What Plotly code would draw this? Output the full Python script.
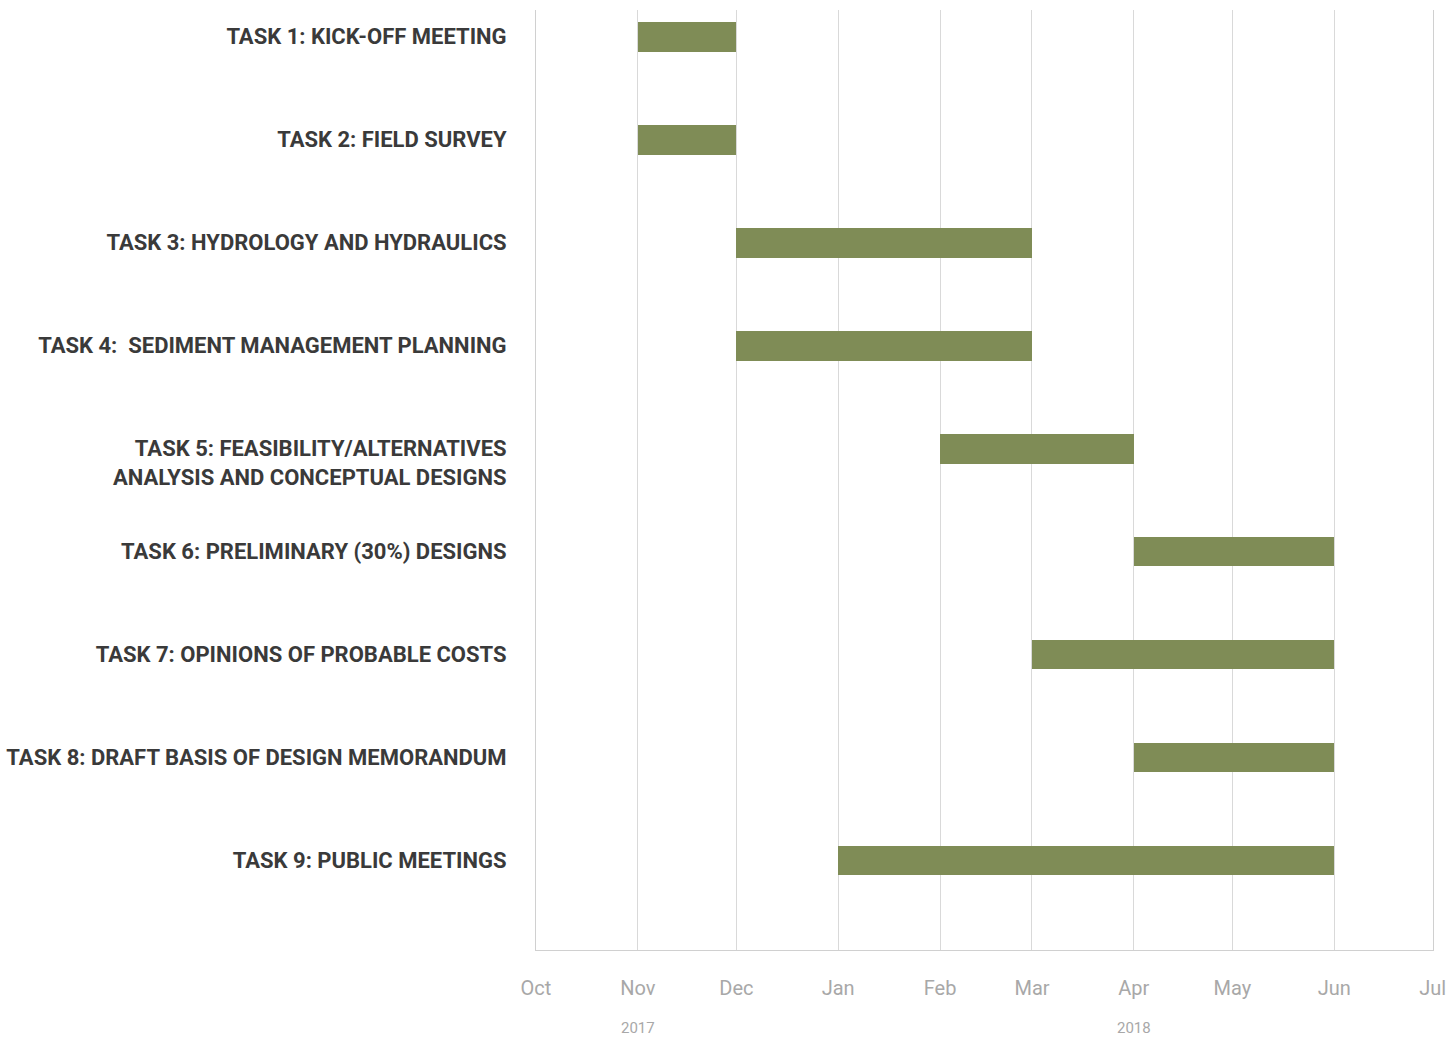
import plotly.graph_objects as go
import pandas as pd

tasks = [
    "TASK 1: KICK-OFF MEETING",
    "TASK 2: FIELD SURVEY",
    "TASK 3: HYDROLOGY AND HYDRAULICS",
    "TASK 4:  SEDIMENT MANAGEMENT PLANNING",
    "&nbsp;<br>TASK 5: FEASIBILITY/ALTERNATIVES<br>ANALYSIS AND CONCEPTUAL DESIGNS",
    "TASK 6: PRELIMINARY (30%) DESIGNS",
    "TASK 7: OPINIONS OF PROBABLE COSTS",
    "TASK 8: DRAFT BASIS OF DESIGN MEMORANDUM",
    "TASK 9: PUBLIC MEETINGS",
]
starts = ["2017-11-01", "2017-11-01", "2017-12-01", "2017-12-01", "2018-02-01",
          "2018-04-01", "2018-03-01", "2018-04-01", "2018-01-01"]
ends = ["2017-12-01", "2017-12-01", "2018-03-01", "2018-03-01", "2018-04-01",
        "2018-06-01", "2018-06-01", "2018-06-01", "2018-06-01"]
month_ticks = ["2017-10-01", "2017-11-01", "2017-12-01", "2018-01-01", "2018-02-01",
               "2018-03-01", "2018-04-01", "2018-05-01", "2018-06-01", "2018-07-01"]
month_labels = ["Oct", "Nov", "Dec", "Jan", "Feb", "Mar", "Apr", "May", "Jun", "Jul"]
year_labels = [("2017-11-01", "2017"), ("2018-04-01", "2018")]

rows = list(range(len(tasks)))
durations = [(pd.Timestamp(e) - pd.Timestamp(s)).total_seconds() * 1000 for s, e in zip(starts, ends)]

FONT = "Roboto, Liberation Sans, sans-serif"

fig = go.Figure()
fig.add_trace(go.Bar(
    y=rows, x=durations, base=starts, orientation="h",
    marker=dict(color="#7f8c56", line=dict(width=0)),
    width=0.29, showlegend=False,
))

fig.update_layout(
    width=1450, height=1040,
    margin=dict(l=536, r=17, t=10, b=90),
    paper_bgcolor="white", plot_bgcolor="white",
    bargap=0,
)
fig.update_xaxes(
    type="date", range=["2017-10-01", "2018-07-01 02:00"],
    tickvals=month_ticks, ticktext=month_labels,
    showgrid=True, gridcolor="#d9d9d9", gridwidth=1,
    showline=True, linecolor="#d0d0d0", linewidth=1,
    ticks="", ticklabelstandoff=20, automargin=False,
    ticklabeloverflow="allow",
    tickfont=dict(family=FONT, size=20, color="#a8a8a8"),
    zeroline=False,
)
fig.update_yaxes(
    range=[8.87, -0.26], tickvals=rows, ticktext=tasks,
    showgrid=False, zeroline=False, automargin=False,
    showline=True, mirror=True, linecolor="#d0d0d0", linewidth=1,
    ticks="", ticklabelstandoff=24,
    tickfont=dict(family=FONT, size=22, color="#3a3a3a", weight="bold"),
)
for d, t in year_labels:
    fig.add_annotation(x=d, y=0, xref="x", yref="paper", yshift=-89,
                       text=t, showarrow=False,
                       font=dict(family=FONT, size=15, color="#a8a8a8"))

fig.write_html("out.html", config={"displayModeBar": False},
               post_script="document.body.style.margin='0px';document.body.style.overflow='hidden';")
